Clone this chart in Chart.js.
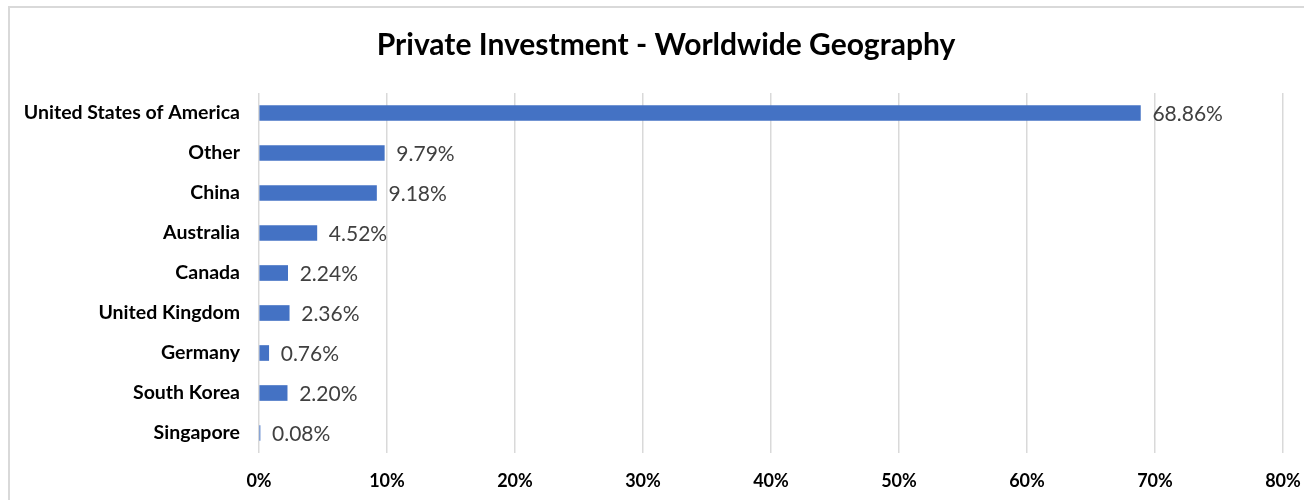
<!DOCTYPE html>
<html>
<head>
<meta charset="utf-8">
<script src="https://cdn.jsdelivr.net/npm/chart.js@4"></script>
<style>
  html, body { margin: 0; padding: 0; background: #ffffff; }
  #wrap { position: relative; width: 1304px; height: 500px; overflow: hidden; }
  #frame { position: absolute; left: 8px; top: 6px; width: 1320px; height: 520px; border: 2px solid #d9d9d9; box-sizing: border-box; }
  canvas { position: absolute; left: 0; top: 0; }
</style>
</head>
<body>
<div id="wrap">
  <div id="frame"></div>
  <canvas id="c" width="1330" height="500"></canvas>
</div>
<script>
const chartTitle = 'Private Investment - Worldwide Geography';
const categories = ['United States of America', 'Other', 'China', 'Australia', 'Canada', 'United Kingdom', 'Germany', 'South Korea', 'Singapore'];
const shares = [68.86, 9.79, 9.18, 4.52, 2.24, 2.36, 0.76, 2.20, 0.08];
const xTicks = [0, 10, 20, 30, 40, 50, 60, 70, 80];

const FONT = 'Lato, "Open Sans", sans-serif';

const valueLabels = {
  id: 'valueLabels',
  afterDatasetsDraw(chart) {
    const ctx = chart.ctx;
    const meta = chart.getDatasetMeta(0);
    ctx.save();
    ctx.font = '21px ' + FONT;
    ctx.fillStyle = '#404040';
    ctx.textAlign = 'left';
    ctx.textBaseline = 'middle';
    meta.data.forEach((bar, i) => {
      ctx.fillText(shares[i].toFixed(2) + '%', bar.x + 12, bar.y + 1);
    });
    ctx.restore();
  }
};

// let the category labels use the space left of the layout padding
const widenLabelArea = {
  id: 'widenLabelArea',
  afterLayout(chart) {
    const y = chart.scales.y;
    y.width += y.left;
    y.left = 0;
  }
};

new Chart(document.getElementById('c'), {
  type: 'bar',
  data: {
    labels: categories,
    datasets: [{
      data: shares,
      backgroundColor: '#4472C4',
      borderWidth: 0,
      barThickness: 15
    }]
  },
  options: {
    indexAxis: 'y',
    responsive: false,
    animation: false,
    layout: { padding: { left: 49, right: 47, top: 0, bottom: 0 } },
    plugins: {
      legend: { display: false },
      tooltip: { enabled: false },
      title: {
        display: true,
        text: chartTitle,
        color: '#000000',
        font: { family: FONT, size: 30, weight: 'bold', lineHeight: 1.2 },
        padding: { top: 27, bottom: 30 }
      }
    },
    scales: {
      x: {
        min: 0,
        max: 80,
        afterBuildTicks(scale) { scale.ticks = xTicks.map(v => ({ value: v })); },
        afterFit(scale) {
          scale.height = 500 - 453;
          scale.paddingLeft = 0;
          scale.paddingRight = 0;
        },
        grid: { color: '#d9d9d9', lineWidth: 1.5, drawTicks: false },
        border: { display: false },
        ticks: {
          padding: 17,
          color: '#000000',
          font: { family: FONT, size: 18, weight: 'bold' },
          callback: v => v + '%'
        }
      },
      y: {
        afterFit(scale) { scale.width = 210; },
        grid: { display: false, drawTicks: false },
        border: { display: false },
        ticks: {
          padding: 19,
          color: '#000000',
          font: { family: FONT, size: 19.5, weight: 'bold' }
        }
      }
    }
  },
  plugins: [valueLabels, widenLabelArea]
});
</script>
</body>
</html>
